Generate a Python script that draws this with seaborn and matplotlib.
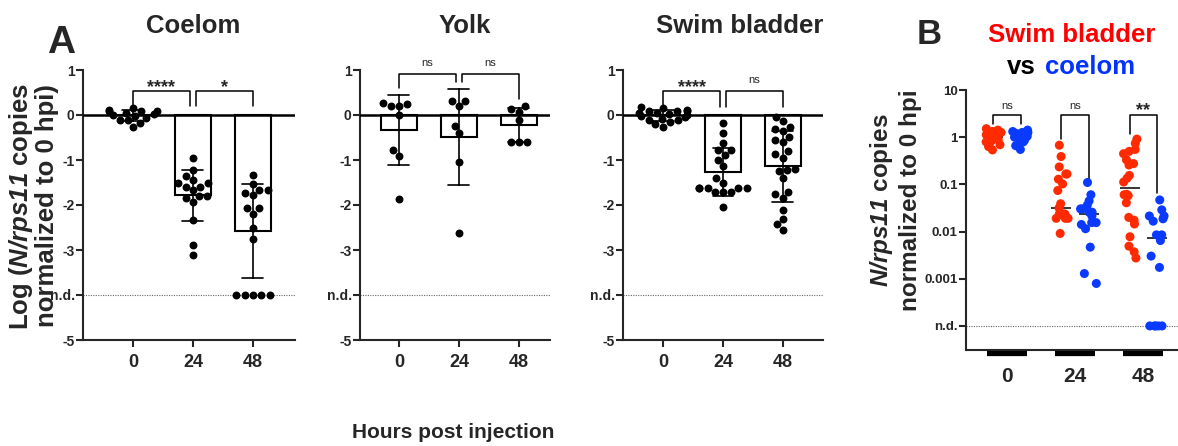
import warnings
import numpy as np
import pandas as pd
import matplotlib.pyplot as plt
import matplotlib.transforms as mtransforms
import seaborn as sns

warnings.filterwarnings("ignore")
np.random.seed(7)  # only for the strip jitter in panel B

# log10(N/rps11 copies, normalized to 0 hpi); n.d. samples are put at -4
ND = -4
hours = ["0", "24", "48"]

coelom_0 = [0.15, 0.12, 0.1, 0.1, 0.08, 0.05, 0.02, 0.0, -0.03, -0.06, -0.1, -0.12, -0.18, -0.26]
coelom_24 = [-0.96, -1.22, -1.35, -1.44, -1.52, -1.52, -1.59, -1.59, -1.67, -1.81, -1.81,
             -1.85, -1.94, -2.33, -2.89, -3.10]
coelom_48 = [-1.33, -1.54, -1.67, -1.67, -1.73, -1.78, -2.07, -2.07, -2.19, -2.52, -2.76,
             ND, ND, ND, ND, ND]

yolk_0 = [0.19, 0.27, 0.2, 0.24, 0.0, -0.78, -0.91, -1.87]
yolk_24 = [0.21, 0.32, 0.32, -0.39, -0.24, -1.04, -2.63]
yolk_48 = [0.19, 0.07, 0.13, -0.11, -0.61, -0.59, -0.61]

swim_0 = [0.18, 0.15, 0.12, 0.1, 0.1, 0.08, 0.05, 0.05, 0.02, 0.0, -0.03, -0.05, -0.08,
          -0.1, -0.12, -0.16, -0.2, -0.27]
swim_24 = [-0.17, -0.41, -0.63, -0.78, -0.78, -0.89, -0.99, -1.13, -1.41, -1.5, -1.63,
           -1.63, -1.63, -1.63, -1.63, -1.72, -1.72, -1.72, -2.04]
swim_48 = [-0.04, -0.13, -0.30, -0.26, -0.35, -0.48, -0.59, -0.56, -0.81, -0.95, -0.87,
           -1.21, -1.39, -1.22, -1.24, -1.70, -1.76, -1.84, -2.11, -2.31, -2.43, -2.56]

RED = "#ff2a00"
BLUE = "#0a3aff"

sns.set_style("ticks")
plt.rcParams['font.family'] = ['Liberation Sans', 'DejaVu Sans']
plt.rcParams['font.weight'] = 'bold'
plt.rcParams['mathtext.fontset'] = 'custom'
plt.rcParams['mathtext.bfit'] = 'Liberation Sans:italic:bold'
plt.rcParams['mathtext.bf'] = 'Liberation Sans:bold'
plt.rcParams['axes.linewidth'] = 1.5


def long_df(groups):
    rows = []
    for h, vals in zip(hours, groups):
        rows += [(h, v) for v in vals]
    return pd.DataFrame(rows, columns=["hpi", "logval"])


W, H = 1178, 446
fig = plt.figure(figsize=(W / 100, H / 100), dpi=100)


def add_ax(left, right, top, bottom):
    return fig.add_axes([left / W, 1 - bottom / H, (right - left) / W, (bottom - top) / H])


def bracket(ax, x0, x1, top, l0, l1, label, ty):
    ax.plot([x0, x0, x1, x1], [l0, top, top, l1], color="black", lw=1.1, clip_on=False)
    if label == "ns":
        ax.text((x0 + x1) / 2, ty, label, ha="center", va="baseline",
                fontsize=8, fontweight="normal", clip_on=False)
    else:
        ax.text((x0 + x1) / 2, ty, label, ha="center", va="baseline",
                fontsize=13, fontweight="bold", clip_on=False)


def draw_site(ax, groups, xlim):
    df = long_df(groups)
    sns.barplot(data=df, x="hpi", y="logval", order=hours, errorbar="sd", width=0.6,
                capsize=0.35, color="white", edgecolor="black", linewidth=1.5,
                err_kws={"color": "black", "linewidth": 1.2}, ax=ax)
    sns.swarmplot(data=df, x="hpi", y="logval", order=hours, color="black", size=5.7, ax=ax)
    ax.axhline(0, color="black", lw=1.8, zorder=3)
    ax.axhline(ND, color="0.4", lw=0.8, ls=(0, (1, 1.2)), zorder=0)
    ax.set_xlim(xlim)
    ax.set_ylim(-5, 1)
    ax.set_yticks([1, 0, -1, -2, -3, -4, -5])
    ax.set_yticklabels(["1", "0", "-1", "-2", "-3", "n.d.", "-5"], fontsize=10, fontweight="bold")
    ax.set_xticks(range(3))
    ax.set_xticklabels(hours, fontsize=13, fontweight="bold")
    ax.tick_params(axis="y", length=5, width=1.5, pad=1)
    ax.tick_params(axis="x", length=5, width=1.5, pad=5)
    ax.set_xlabel("")
    ax.set_ylabel("")
    sns.despine(ax=ax)


ax_c = add_ax(83, 295, 70, 340)
ax_y = add_ax(360, 550, 70, 340)
ax_s = add_ax(623, 823, 70, 340)
ax_b = add_ax(966, 1178, 90, 350)

draw_site(ax_c, [coelom_0, coelom_24, coelom_48], (-0.83, 2.7))
draw_site(ax_y, [yolk_0, yolk_24, yolk_48], (-0.65, 2.52))
draw_site(ax_s, [swim_0, swim_24, swim_48], (-0.67, 2.67))

bracket(ax_c, 0, 0.95, 0.53, 0.19, 0.19, "****", 0.5)
bracket(ax_c, 1.05, 2, 0.53, 0.19, 0.19, "*", 0.5)
bracket(ax_y, 0, 0.95, 0.91, 0.61, 0.74, "ns", 1.08)
bracket(ax_y, 1.05, 2, 0.91, 0.74, 0.36, "ns", 1.08)
bracket(ax_s, 0, 0.95, 0.53, 0.17, 0.17, "****", 0.5)
bracket(ax_s, 1.05, 2, 0.53, 0.17, 0.17, "ns", 0.71)

# panel B: swim bladder vs coelom on a log axis, n.d. at 1e-4
df_b = pd.concat([
    long_df([swim_0, swim_24, swim_48]).assign(site="Swim bladder"),
    long_df([coelom_0, coelom_24, coelom_48]).assign(site="Coelom"),
], ignore_index=True)
df_b["ratio"] = 10.0 ** df_b["logval"]
sites = ["Swim bladder", "Coelom"]

ax_b.set_yscale("log")
sns.pointplot(data=df_b, x="hpi", y="ratio", hue="site", hue_order=sites, order=hours,
              estimator="median", errorbar=None, dodge=0.4, palette=["black", "black"],
              markers="_", linestyle="none", markersize=14, markeredgewidth=1.1,
              legend=False, ax=ax_b)
sns.stripplot(data=df_b, x="hpi", y="ratio", hue="site", hue_order=sites, order=hours,
              dodge=True, jitter=0.24, palette=[RED, BLUE], size=6.5, legend=False, ax=ax_b)
ax_b.axhline(10.0 ** ND, color="0.4", lw=0.8, ls=(0, (1, 1.2)), zorder=0)
ax_b.set_xlim(-0.6, 2.51)
ax_b.set_ylim(10 ** -4.51, 10)
ax_b.set_yticks([10, 1, 0.1, 0.01, 0.001, 1e-4])
ax_b.set_yticklabels(["10", "1", "0.1", "0.01", "0.001", "n.d."], fontsize=9.5, fontweight="bold")
ax_b.minorticks_off()
ax_b.set_xticks(range(3))
ax_b.set_xticklabels(hours, fontsize=15, fontweight="bold")
ax_b.tick_params(axis="y", length=5, width=1.5, pad=1)
ax_b.tick_params(axis="x", length=0, pad=12)
ax_b.set_xlabel("")
ax_b.set_ylabel("")
sns.despine(ax=ax_b)
trans = mtransforms.blended_transform_factory(ax_b.transData, ax_b.transAxes)
for i in range(3):
    ax_b.plot([i - 0.29, i + 0.29], [-0.012, -0.012], color="black", lw=4.5,
              transform=trans, clip_on=False, solid_capstyle="butt")

for i, (l0, l1, lab) in enumerate([(1.9, 1.9, "ns"), (0.9, 0.13, "ns"), (1.15, 0.065, "**")]):
    ax_b.plot([i - 0.2, i - 0.2, i + 0.2, i + 0.2], [l0, 2.95, 2.95, l1], color="black",
              lw=1.1, clip_on=False)
    if lab == "ns":
        ax_b.text(i, 3.9, lab, ha="center", va="baseline", fontsize=8, fontweight="normal")
    else:
        ax_b.text(i, 2.9, lab, ha="center", va="baseline", fontsize=13, fontweight="bold")


# titles and labels
def ftext(x, y, s, **kw):
    return fig.text(x / W, 1 - y / H, s, **kw)


ftext(61, 43, "A", fontsize=28, fontweight="bold", ha="center", va="center")
ftext(929, 34, "B", fontsize=25, fontweight="bold", ha="center", va="center")
ftext(193, 26, "Coelom", fontsize=18.5, fontweight="bold", ha="center", va="center")
ftext(465, 26, "Yolk", fontsize=18.5, fontweight="bold", ha="center", va="center")
ftext(740, 26, "Swim bladder", fontsize=18.5, fontweight="bold", ha="center", va="center")
ftext(1072, 35, "Swim bladder", fontsize=18.5, fontweight="bold", ha="center", va="center",
      color="#ff0000")
ftext(1036, 67, "vs", fontsize=18.5, fontweight="bold", ha="right", va="center", color="black")
ftext(1045, 67, "coelom", fontsize=18.5, fontweight="bold", ha="left", va="center",
      color="#0033ff")

ftext(33, 206, "Log ($\\mathbfit{N/rps11}$ copies\nnormalized to 0 hpi)", fontsize=18.5,
      fontweight="bold", ha="center", va="center", rotation=90, linespacing=1.05)
ftext(895, 200, "$\\mathbfit{N/rps11}$ copies\nnormalized to 0 hpi", fontsize=17.5,
      fontweight="bold", ha="center", va="center", rotation=90, linespacing=1.2)
ftext(453, 432, "Hours post injection", fontsize=15, fontweight="bold", ha="center",
      va="center")

fig.savefig("out.png", dpi=100)
